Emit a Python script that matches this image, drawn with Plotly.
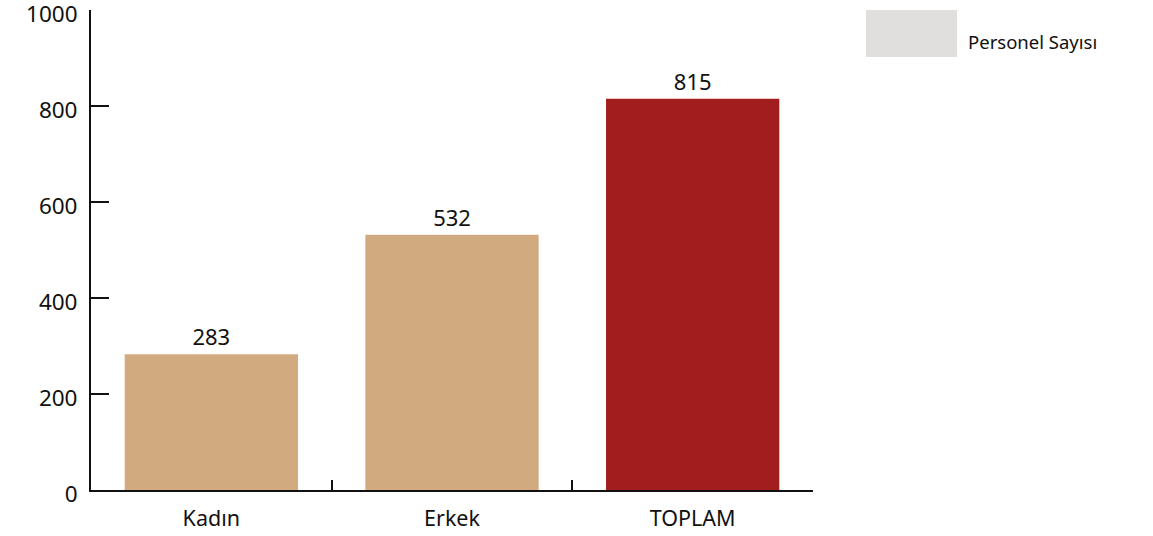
import plotly.graph_objects as go

categories = ["Kadın", "Erkek", "TOPLAM"]
values = [283, 532, 815]
bar_colors = ["#D2AA80", "#D2AA80", "#A21E1E"]
y_ticks = [0, 200, 400, 600, 800, 1000]
legend_label = "Personel Sayısı"

FONT = "Noto Sans, Open Sans, sans-serif"

# plot area target: x 91..813, y 10..490 on page (body margin removed below)
L, T = 91, 10
PW, PH = 722, 480

fig = go.Figure()
fig.add_trace(go.Bar(
    x=categories, y=values,
    marker=dict(color=bar_colors, line=dict(width=0)),
    width=0.72,
    text=[str(v) for v in values],
    textposition="outside",
    textfont=dict(size=22, color="#111", family=FONT),
    cliponaxis=False,
    showlegend=False,
))

fig.update_layout(
    width=1153, height=536,
    margin=dict(l=L, r=1153 - L - PW, t=T, b=536 - T - PH, autoexpand=False),
    paper_bgcolor="white", plot_bgcolor="white",
    font=dict(family=FONT, color="#111"),
    showlegend=False,
    bargap=0.28,
)
fig.update_yaxes(
    range=[0, 1000.01], tickvals=y_ticks, automargin=False,
    showgrid=False, zeroline=False,
    showline=True, linecolor="#111", linewidth=2,
    ticks="inside", ticklen=18, tickwidth=2, tickcolor="#111",
    ticklabelstandoff=7, ticklabelshift=4, ticklabeloverflow="allow",
    tickfont=dict(size=22.5, family=FONT, color="#111"),
)
fig.update_xaxes(
    automargin=False,
    showgrid=False, zeroline=False,
    showline=True, linecolor="#111", linewidth=2,
    ticks="inside", tickson="boundaries", ticklen=10, tickwidth=2, tickcolor="#111",
    ticklabelstandoff=8,
    tickfont=dict(size=21.5, family=FONT, color="#111"),
)

fig.add_shape(type="rect", xref="paper", yref="paper",
              x0=(866-91)/PW, x1=(957-91)/PW, y0=(490-57)/PH, y1=(490-10)/PH,
              fillcolor="#E0DFDD", line=dict(width=0))
fig.add_annotation(xref="paper", yref="paper", x=(966-91)/PW, y=(490-42)/PH,
                   text=legend_label, showarrow=False, xanchor="left", yanchor="middle",
                   font=dict(size=18.5, family=FONT, color="#111"))

fig.write_html("out.html", config={"displayModeBar": False},
               post_script="document.body.style.margin='0';")
